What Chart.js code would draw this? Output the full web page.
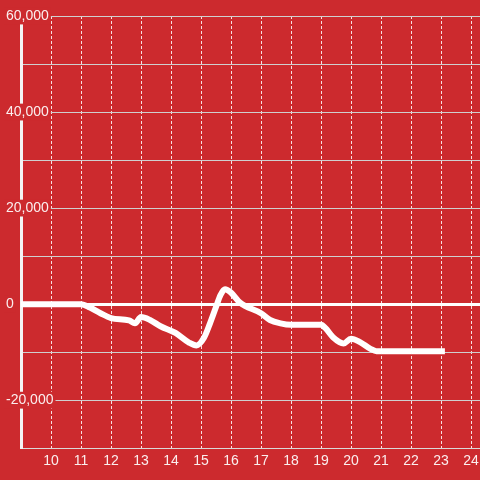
<!DOCTYPE html>
<html lang="en">
<head>
    <meta charset="UTF-8">
    <title>Line chart</title>
    <script src="https://cdn.jsdelivr.net/npm/chart.js"></script>
    <style>
        html, body { margin: 0; padding: 0; background-color: #cc2a2e; }
        .chart-box { width: 480px; height: 480px; position: relative; }
    </style>
</head>
<body>
    <div class="chart-box">
        <canvas id="lineChart"></canvas>
    </div>
    <script>
        // data
        const hours = [9, 11, 11.3, 11.65, 12, 12.6, 12.8, 13, 13.3, 13.65, 14.15, 14.6, 14.85, 15.1, 15.3, 15.5, 15.65, 15.8, 16, 16.3, 17, 17.3, 17.65, 18, 19, 19.15, 19.4, 19.75, 20, 20.3, 20.65, 20.85, 23.13];
        const values = [0, 0, -700, -1900, -2900, -3400, -4000, -2700, -3300, -4600, -6000, -8000, -8600, -7000, -4000, -600, 1900, 3100, 2400, 300, -1900, -3300, -4000, -4300, -4300, -5000, -6900, -8200, -7200, -7900, -9300, -9800, -9800];
        const xTicks = [10, 11, 12, 13, 14, 15, 16, 17, 18, 19, 20, 21, 22, 23, 24];
        const yLabelled = [60000, 40000, 20000, 0, -20000];

        const red = '#cc2a2e';
        const points = hours.map((h, i) => ({ x: h, y: values[i] }));

        Chart.defaults.font.family = "'Liberation Sans', Arial, sans-serif";
        Chart.defaults.font.size = 14;

        new Chart(document.getElementById('lineChart').getContext('2d'), {
            type: 'line',
            data: {
                datasets: [{
                    data: points,
                    borderColor: '#ffffff',
                    borderWidth: 6,
                    borderCapStyle: 'butt',
                    pointRadius: 0,
                    cubicInterpolationMode: 'monotone',
                    fill: false
                }]
            },
            options: {
                responsive: true,
                maintainAspectRatio: false,
                animation: false,
                layout: { padding: { left: 6, top: 16, right: 0, bottom: 5 } },
                plugins: { legend: { display: false }, tooltip: { enabled: false } },
                scales: {
                    x: {
                        type: 'linear',
                        min: 9,
                        max: 24.3,
                        afterBuildTicks: (scale) => {
                            scale.ticks = xTicks.map(v => ({ value: v }));
                        },
                        afterFit: (scale) => {
                            scale.paddingLeft = 0;
                            scale.paddingRight = 0;
                        },
                        grid: {
                            color: 'rgba(255,255,255,0.85)',
                            lineWidth: 1,
                            drawTicks: false
                        },
                        border: { display: true, color: '#d9d9d9', width: 1, dash: [3, 2] },
                        ticks: {
                            color: 'rgba(255,255,255,0.92)',
                            padding: 5,
                            maxRotation: 0,
                            callback: (v) => v
                        }
                    },
                    y: {
                        min: -30000,
                        max: 60000,
                        afterFit: (scale) => { scale.width = 15; },
                        grid: {
                            color: (ctx) => ctx.tick && ctx.tick.value === 0 ? '#ffffff' : '#cfcfcf',
                            lineWidth: (ctx) => ctx.tick && ctx.tick.value === 0 ? 3 : 1,
                            drawTicks: false
                        },
                        border: { display: true, color: '#f4f4f4', width: 3 },
                        ticks: {
                            stepSize: 10000,
                            color: 'rgba(255,255,255,0.92)',
                            mirror: true,
                            padding: -15,
                            showLabelBackdrop: (ctx) => yLabelled.includes(ctx.tick.value),
                            backdropColor: red,
                            backdropPadding: { left: 2, right: 2, top: 0, bottom: 0 },
                            callback: (v) => yLabelled.includes(v) ? v.toLocaleString('en-US') : ''
                        }
                    }
                }
            }
        });
    </script>
</body>
</html>
